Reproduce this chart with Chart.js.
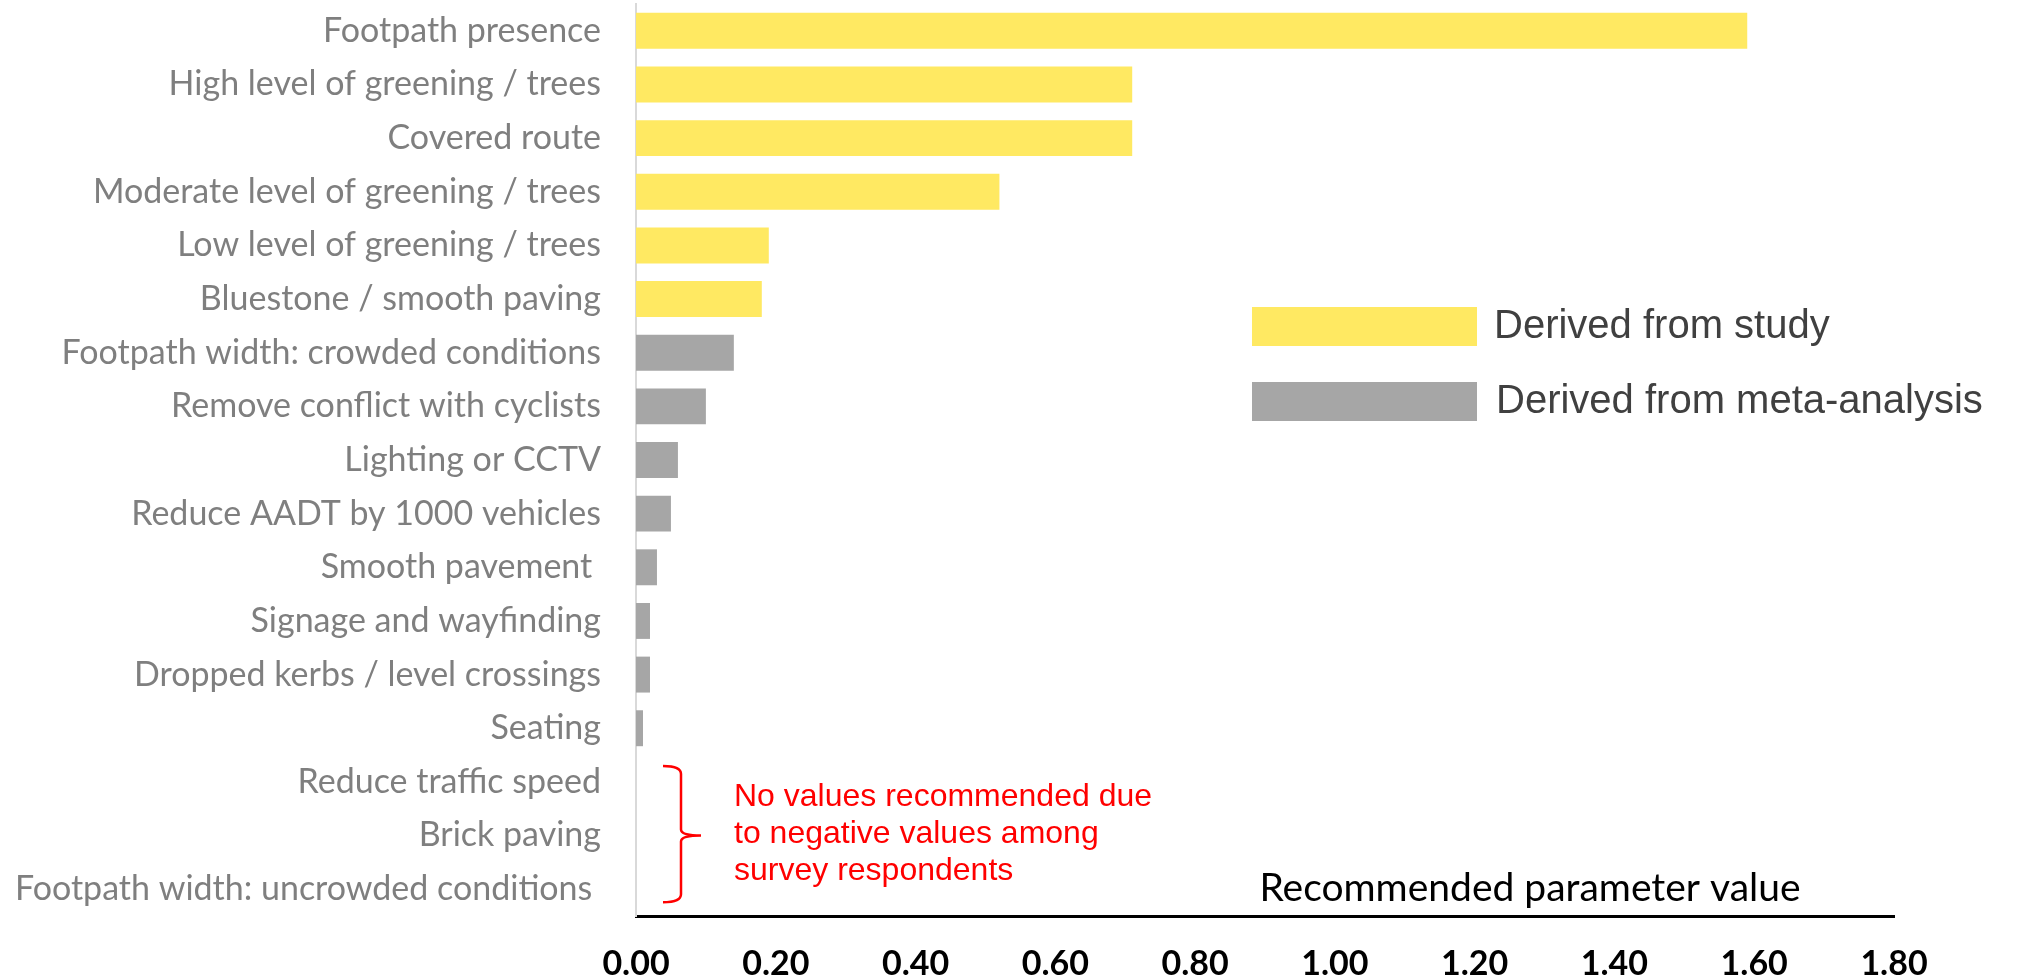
<!DOCTYPE html>
<html>
<head>
<meta charset="utf-8">
<script src="https://cdn.jsdelivr.net/npm/chart.js@4.4.0/dist/chart.umd.min.js"></script>
<style>
  html, body { margin: 0; padding: 0; background: #fff; }
</style>
</head>
<body>
<canvas id="grafico" width="2022" height="979"></canvas>
<script>
const categorias = [
  'Footpath presence',
  'High level of greening / trees',
  'Covered route',
  'Moderate level of greening / trees',
  'Low level of greening / trees',
  'Bluestone / smooth paving',
  'Footpath width: crowded conditions',
  'Remove conflict with cyclists',
  'Lighting or CCTV',
  'Reduce AADT by 1000 vehicles',
  'Smooth pavement ',
  'Signage and wayfinding',
  'Dropped kerbs / level crossings',
  'Seating',
  'Reduce traffic speed',
  'Brick paving',
  'Footpath width: uncrowded conditions '
];

const valoresEstudo = [1.59, 0.71, 0.71, 0.52, 0.19, 0.18, null, null, null, null, null, null, null, null, null, null, null];
const valoresMeta = [null, null, null, null, null, null, 0.14, 0.10, 0.06, 0.05, 0.03, 0.02, 0.02, 0.01, null, null, null];

const rotulosX = ['0.00', '0.20', '0.40', '0.60', '0.80', '1.00', '1.20', '1.40', '1.60', '1.80'];
const nomesSeries = ['Derived from study', 'Derived from meta-analysis'];
const notaLinhas = ['No values recommended due', 'to negative values among', 'survey respondents'];
const tituloX = 'Recommended parameter value';

// legenda, chave vermelha e titulo do eixo desenhados por cima
const notas = {
  id: 'notas',
  afterDraw(chart) {
    const ctx = chart.ctx;
    const x = chart.scales.x;
    const y = chart.scales.y;
    ctx.save();

    ctx.textBaseline = 'middle';
    ctx.textAlign = 'left';
    ctx.font = '40px "Liberation Sans", Arial, sans-serif';
    chart.data.datasets.forEach((ds, i) => {
      const topo = 307 + i * 75;
      ctx.fillStyle = ds.backgroundColor;
      ctx.fillRect(1252, topo, 225, 39);
      ctx.fillStyle = '#404040';
      ctx.fillText(ds.label, 1494 + i * 2, topo + 20);
    });

    // chave
    const yTopo = y.getPixelForValue(14) - 16;
    const yBase = y.getPixelForValue(16) + 13;
    const yMeio = y.getPixelForValue(15);
    const xb = x.left + 45;
    ctx.strokeStyle = '#ff0000';
    ctx.lineWidth = 2.5;
    ctx.beginPath();
    ctx.moveTo(xb - 18, yTopo);
    ctx.quadraticCurveTo(xb, yTopo, xb, yTopo + 8);
    ctx.lineTo(xb, yMeio - 6);
    ctx.quadraticCurveTo(xb, yMeio, xb + 20, yMeio);
    ctx.quadraticCurveTo(xb, yMeio, xb, yMeio + 6);
    ctx.lineTo(xb, yBase - 8);
    ctx.quadraticCurveTo(xb, yBase, xb - 18, yBase);
    ctx.stroke();

    ctx.fillStyle = '#ff0000';
    ctx.font = '32px "Liberation Sans", Arial, sans-serif';
    notaLinhas.forEach((linha, i) => {
      ctx.fillText(linha, x.left + 98, yMeio + (i - 1) * 37 - 1);
    });

    ctx.fillStyle = '#000000';
    ctx.textAlign = 'center';
    ctx.font = '39px Lato, sans-serif';
    ctx.fillText(tituloX, 1530, 888);
    ctx.restore();
  }
};

const ctx = document.getElementById('grafico').getContext('2d');

new Chart(ctx, {
  type: 'bar',
  data: {
    labels: categorias,
    datasets: [{
      label: nomesSeries[0],
      data: valoresEstudo,
      backgroundColor: '#ffe962'
    }, {
      label: nomesSeries[1],
      data: valoresMeta,
      backgroundColor: '#a6a6a6'
    }]
  },
  options: {
    indexAxis: 'y',
    responsive: false,
    animation: false,
    layout: { padding: { top: 4, right: 128, left: 0, bottom: 0 } },
    datasets: {
      bar: {
        grouped: false,
        borderWidth: 0,
        barPercentage: 0.67,
        categoryPercentage: 1.0
      }
    },
    plugins: {
      legend: { display: false },
      tooltip: { enabled: false }
    },
    scales: {
      x: {
        min: 0,
        max: 1.8,
        afterFit(scale) {
          scale.height = 63;
          scale.paddingLeft = 0;
          scale.paddingRight = 0;
        },
        grid: { display: false, drawTicks: false },
        border: { display: true, color: '#000000', width: 3 },
        ticks: {
          stepSize: 0.2,
          padding: 28,
          color: '#000000',
          font: { family: 'Lato', size: 34, weight: 'bold' },
          callback: (v, i) => rotulosX[i]
        }
      },
      y: {
        afterFit(scale) {
          scale.width = 636;
          scale.paddingTop = 0;
          scale.paddingBottom = 0;
        },
        grid: { display: false, drawTicks: false },
        border: { display: true, color: '#d9d9d9', width: 2 },
        ticks: {
          autoSkip: false,
          padding: 35,
          color: '#7f7f7f',
          font: { family: 'Lato', size: 34 }
        }
      }
    }
  },
  plugins: [notas]
});
</script>
</body>
</html>
